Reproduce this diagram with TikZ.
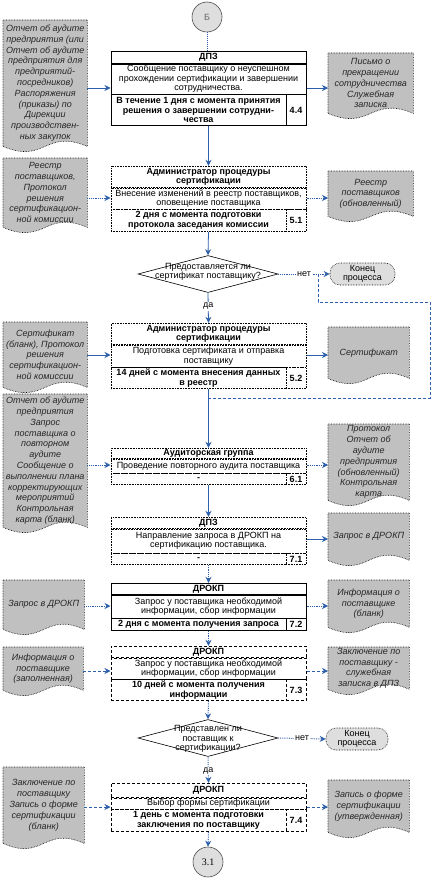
\documentclass[tikz,border=0pt]{standalone}
\usepackage{fontspec}
\setmainfont{Liberation Sans}
\newfontfamily\numserif{Liberation Serif}
\usetikzlibrary{arrows.meta,shapes.geometric,backgrounds,fit,calc}
\definecolor{flowblue}{RGB}{45,95,170}
\definecolor{docgray}{RGB}{192,192,192}
\definecolor{lightfill}{RGB}{222,222,222}
\newcommand\boxfont{\fontsize{9}{9.6}\selectfont}
\newcommand\docfont{\fontsize{9}{10.8}\selectfont\itshape}
\tikzset{
  rowline/.style={draw=black, line width=0.6pt},
  hdrrow/.style={rowline, fill=white, anchor=north, minimum width=195pt, align=center, font=\boxfont\bfseries},
  midrow/.style={rowline, fill=white, anchor=north, minimum width=195pt, align=center, font=\boxfont},
  timrow/.style={rowline, fill=white, anchor=north west, minimum width=175pt, align=center, font=\boxfont\bfseries},
  numrow/.style={rowline, fill=white, anchor=north east, minimum width=20pt, align=center, font=\boxfont\bfseries},
  docnode/.style={anchor=north west, align=center, font=\docfont, text=black!85},
  docshape/.style={draw=black, densely dotted, line width=0.6pt, fill=docgray},
  flow/.style={draw=flowblue, line width=0.8pt, -{Stealth[length=6pt,width=6pt]}},
  flowdot/.style={flow, densely dotted, line width=1pt},
  flowdash/.style={flow, densely dashed},
  loopline/.style={draw=flowblue, line width=0.8pt, densely dashed},
  decision/.style={diamond, draw=black, line width=0.6pt, fill=white, minimum width=140pt, minimum height=37pt},
  qtext/.style={align=center, font=\boxfont},
  terminal/.style={draw=black, densely dotted, line width=0.6pt, fill=lightfill, rounded corners=10pt, align=center, font=\boxfont},
  connector/.style={circle, draw=black!70, line width=0.6pt, fill=lightfill, minimum size=30pt},
  lbl/.style={fill=white, inner sep=1pt, font=\boxfont},
}
% name, ytop, h1, h2, h3, header, middle, timing, number
\newcommand\ProcBox[9]{%
  \node[hdrrow, minimum height=#3pt] (#1h) at (208.5,#2) {#6};
  \node[midrow, minimum height=#4pt] (#1m) at (#1h.south) {#7};
  \node[timrow, minimum height=#5pt] (#1t) at (#1m.south west) {#8};
  \node[numrow, minimum height=#5pt] (#1n) at (#1m.south east) {#9};
  \node[fit=(#1h)(#1t)(#1n), inner sep=0pt] (#1) {};
}
% name, xleft, ytop, width, height, text
\newcommand\DocNode[6]{%
  \node[docnode, minimum width=#4pt, minimum height=#5pt] (#1) at (#2,#3) {#6};
  \begin{pgfonlayer}{background}
    \draw[docshape] (#1.north west) -- (#1.north east) -- (#1.south east)
      .. controls ($(#1.south)+(0,-18)$) and ($(#1.south)+(0,18)$) .. (#1.south west) -- cycle;
  \end{pgfonlayer}
}
\begin{document}
\begin{tikzpicture}[x=1pt, y=-1pt, inner sep=0pt]
\useasboundingbox (0,0) rectangle (439,880);

% connector circle top
\node[connector, font=\boxfont, text=black!60] (cB) at (207,17) {Б};

% ---- 4.4
\ProcBox{b44}{51}{12}{30}{31}{ДПЗ}{Сообщение поставщику о неуспешном\\прохождении сертификации и завершении\\сотрудничества.}{В течение 1 дня с момента принятия\\решения о завершении сотрудни-\\чества}{4.4}
\DocNode{d1}{3}{20}{84}{126}{Отчет об аудите\\предприятия (или\\Отчет об аудите\\предприятия для\\предприятий-\\посредников)\\Распоряжения\\(приказы) по\\Дирекции\\производствен-\\ных закупок}
\DocNode{r1}{328}{53}{85}{60}{Письмо о\\прекращении\\сотрудничества\\Служебная\\записка}

% ---- 5.1
\tikzset{rowline/.style={draw=black, line width=0.6pt, densely dotted}}
\ProcBox{b51}{166}{21}{21}{22}{Администратор процедуры\\сертификации}{Внесение изменений в реестр поставщиков,\\оповещение поставщика}{2 дня с момента подготовки\\протокола заседания комиссии}{5.1}
\DocNode{d2}{3}{158}{84}{69}{Реестр\\поставщиков,\\Протокол\\решения\\сертификацион-\\ной комиссии}
\DocNode{r2}{328}{171}{85}{45}{Реестр\\поставщиков\\(обновленный)}

% decision 1
\node[decision] (q1) at (208,274) {};
\node[qtext] (q1t) at (208,272) {Предоставляется ли\\сертификат поставщику?};
\node[terminal, minimum width=65pt, minimum height=22pt] (e1) at (362.5,274) {Конец\\процесса};

% ---- 5.2
\ProcBox{b52}{323}{21}{22}{21}{Администратор процедуры\\сертификации}{Подготовка сертификата и отправка\\поставщику}{14 дней с момента внесения данных\\в реестр}{5.2}
\DocNode{d3}{3}{322}{84}{65}{Сертификат\\(бланк), Протокол\\решения\\сертификацион-\\ной комиссии}
\DocNode{r3}{328}{327}{81}{51}{Сертификат}

% ---- 6.1
\ProcBox{b61}{448}{10}{14}{11}{Аудиторская группа}{Проведение повторного аудита поставщика}{-}{6.1}
\DocNode{d4}{3}{394}{84}{133}{Отчет об аудите\\предприятия\\Запрос\\поставщика о\\повторном\\аудите\\Сообщение о\\выполнении плана\\корректирующих\\мероприятий\\Контрольная\\карта (бланк)}
\DocNode{r4}{328}{424}{81}{76}{Протокол\\Отчет об\\аудите\\предприятия\\(обновленный)\\Контрольная\\карта}

% ---- 7.1
\ProcBox{b71}{517}{11}{24}{11}{ДПЗ}{Направление запроса в ДРОКП на\\сертификацию поставщика.}{-}{7.1}
\DocNode{r5}{328}{513}{81}{47}{Запрос в ДРОКП}

% ---- 7.2
\tikzset{rowline/.style={draw=black, line width=0.6pt}}
\ProcBox{b72}{583}{11}{23}{12}{ДРОКП}{Запрос у поставщика необходимой\\информации, сбор информации}{2 дня с момента получения запроса}{7.2}
\DocNode{d6}{3}{580}{81}{49}{Запрос в ДРОКП}
\DocNode{r6}{328}{580}{81}{47}{Информация о\\поставщике\\(бланк)}

% ---- 7.3
\tikzset{rowline/.style={draw=black, line width=0.6pt, densely dashed}}
\ProcBox{b73}{646}{11}{21}{21}{ДРОКП}{Запрос у поставщика необходимой\\информации, сбор информации}{10 дней с момента получения\\информации}{7.3}
\DocNode{d7}{3}{647}{80}{43}{Информация о\\поставщике\\(заполненная)}
\DocNode{r7}{328}{647}{81}{42}{Заключение по\\поставщику -\\служебная\\записка в ДПЗ}

% decision 2
\node[decision] (q2) at (208,738) {};
\node[qtext] (q2t) at (208,739) {Представлен ли\\поставщик к\\сертификации?};
\node[terminal, minimum width=62pt, minimum height=22pt] (e2) at (357,739) {Конец\\процесса};

% ---- 7.4
\ProcBox{b74}{783}{14}{11}{22}{ДРОКП}{Выбор формы сертификации}{1 день с момента подготовки\\заключения по поставщику}{7.4}
\DocNode{d8}{3}{767}{81}{76}{Заключение по\\поставщику\\Запись о форме\\сертификации\\(бланк)}
\DocNode{r8}{328}{780}{81}{52}{Запись о форме\\сертификации\\(утвержденная)}

% connector circle bottom
\node[connector, font=\numserif\fontsize{10}{10}\selectfont] (c31) at (208,862) {3.1};

% ---------- level helpers
\coordinate (l44) at (0,88);
\coordinate (l51) at (0,198);
\coordinate (l52) at (0,355);
\coordinate (l61) at (0,465);
\coordinate (l71) at (0,539);
\coordinate (l72) at (0,606);
\coordinate (l73) at (0,671);
\coordinate (l74) at (0,807);
\coordinate (j1) at (208,398);
\coordinate (j3) at (430,302);
\coordinate (j2) at (318,274);

% ---------- connectors
\draw[draw=flowblue, line width=1pt, densely dotted] (cB.south) -- (cB.south |- b44.north);
\draw[flow] (d1.east |- l44) -- (b44.west |- l44);
\draw[flow] (b44.east |- l44) -- (r1.west |- l44);
\draw[flow] (b44.south) -- (b51.north);

\draw[flowdot] (d2.east |- l51) -- (b51.west |- l51);
\draw[flowdot] (b51.east |- l51) -- (r2.west |- l51);
\draw[flow] (b51.south) -- (q1.north);

\draw[flowdot] (q1.east) -- node[lbl]{нет} (e1.west);
\draw[flow] (q1.south) -- node[lbl, pos=0.45]{да} (b52.north);

\draw[flow] (d3.east |- l52) -- (b52.west |- l52);
\draw[flow] (b52.east |- l52) -- (r3.west |- l52);
\draw[flow] (b52.south) -- (b61.north);
\draw[loopline] (j1) -| (j3) -| (j2);

\draw[flowdot] (d4.east |- l61) -- (b61.west |- l61);
\draw[flowdot] (b61.east |- l61) -- (r4.west |- l61);
\draw[flow] (b61.south) -- (b71.north);

\draw[flow] (b71.east |- l71) -- (r5.west |- l71);
\draw[flowdot] (b71.south) -- (b72.north);

\draw[flowdot] (d6.east |- l72) -- (b72.west |- l72);
\draw[flowdot] (b72.east |- l72) -- (r6.west |- l72);
\draw[flowdot] (b72.south) -- (b73.north);

\draw[flowdash] (d7.east |- l73) -- (b73.west |- l73);
\draw[flowdash] (b73.east |- l73) -- (r7.west |- l73);
\draw[flowdot] (b73.south) -- (q2.north);

\draw[flowdot] (q2.east) -- node[lbl]{нет} (e2.west);
\draw[flowdot] (q2.south) -- node[lbl, pos=0.55]{да} (b74.north);

\draw[flowdash] (d8.east |- l74) -- (b74.west |- l74);
\draw[flowdash] (b74.east |- l74) -- (r8.west |- l74);
\draw[flowdot] (b74.south) -- (c31.north);
\end{tikzpicture}
\end{document}
